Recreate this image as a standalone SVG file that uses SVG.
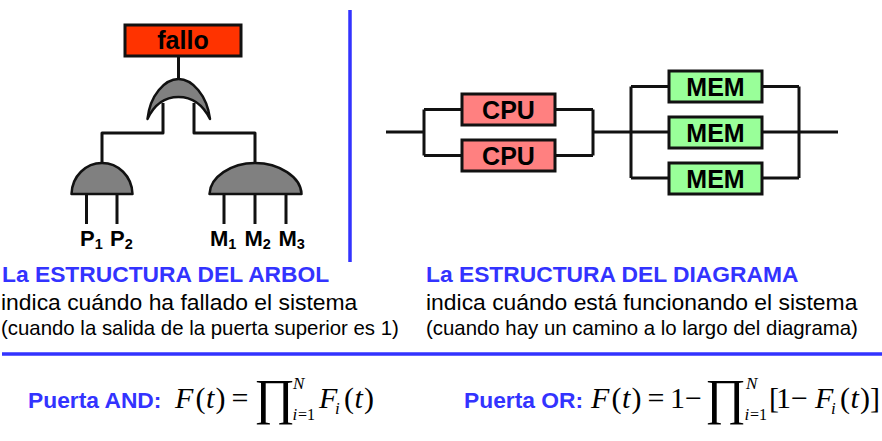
<svg xmlns="http://www.w3.org/2000/svg" width="882" height="441" viewBox="0 0 882 441">
<style>
text{font-family:"Liberation Sans",Arial,sans-serif;fill:#000}
.w{fill:none;stroke:#111;stroke-width:3;stroke-linejoin:round}
.box{stroke:#111;stroke-width:3}
.gate{fill:#808080;stroke:#111;stroke-width:2.5;stroke-linejoin:round}
.lbl{font-weight:bold;font-size:25px;text-anchor:middle}
.io{font-weight:bold;font-size:22px}
.sub{font-weight:bold;font-size:14.500px}
.bar{stroke:#3333ff;stroke-width:3.500;fill:none}
.head{font-weight:bold;font-size:22.800px;fill:#3333ff}
.body{font-size:22.900px}
.note{font-size:20.400px}
.pu{font-weight:bold;font-size:22.800px;fill:#3333ff}
text.f{font-family:"Liberation Serif","Times New Roman",serif;font-size:30px}
.i{font-style:italic}
.s{font-size:17px;font-style:italic}
.n{font-size:16px}
.pr{font-size:50px}
</style>
<g id="connectors">
<path class="w" d="M178.500 56V79M163 103V133H102V163M194 103V133H255V163"/>
<path class="w" d="M86.500 194V224M117 194V224M224 194V224M255 194V224M286 194V224"/>
<path class="w" d="M386 132H424M424 109.500V155.500M424 109.500H462M424 155.500H462M555 109.500H593M555 155.500H593M593 109.500V155.500M593 132H669M631 86.500V178M631 86.500H669M631 178H669M762 86.500H799M762 132H838M762 178H799M799 86.500V178"/>
</g>
<g id="dividers">
<path class="bar" d="M350 10V262M2 354H882"/>
</g>
<g id="fallo">
<rect class="box" x="125" y="25" width="116" height="31" fill="#ff3300"/>
<text class="lbl" x="183" y="49">fallo</text>
</g>
<g id="gate-or">
<path class="gate" d="M147.500 119C150 95 165 79 178.500 79C192 79 207 95 210 119C203 105 192 97 178.500 97C165 97 154 105 147.500 119Z"/>
</g>
<g id="gate-and-p">
<path class="gate" d="M71.500 194C72 176 86 163 102 163C118 163 132 176 132.500 194Z"/>
</g>
<g id="gate-and-m">
<path class="gate" d="M209.500 194C210 177 231 163 255 163C279 163 301 177 301.500 194Z"/>
</g>
<g id="p1"><text class="io" x="80" y="246">P<tspan class="sub" dy="3">1</tspan></text></g>
<g id="p2"><text class="io" x="110" y="246">P<tspan class="sub" dy="3">2</tspan></text></g>
<g id="m1"><text class="io" x="210" y="246">M<tspan class="sub" dy="3">1</tspan></text></g>
<g id="m2"><text class="io" x="244.500" y="246">M<tspan class="sub" dy="3">2</tspan></text></g>
<g id="m3"><text class="io" x="278.500" y="246">M<tspan class="sub" dy="3">3</tspan></text></g>
<g id="cpu1"><rect class="box" x="462" y="94" width="93" height="31" fill="#ff8080"/><text class="lbl" x="508.500" y="118.500">CPU</text></g>
<g id="cpu2"><rect class="box" x="462" y="140" width="93" height="31" fill="#ff8080"/><text class="lbl" x="508.500" y="164.500">CPU</text></g>
<g id="mem1"><rect class="box" x="669" y="71" width="93" height="31" fill="#99ff99"/><text class="lbl" x="715.500" y="95.500">MEM</text></g>
<g id="mem2"><rect class="box" x="669" y="117" width="93" height="31" fill="#99ff99"/><text class="lbl" x="715.500" y="141.500">MEM</text></g>
<g id="mem3"><rect class="box" x="669" y="163" width="93" height="31" fill="#99ff99"/><text class="lbl" x="715.500" y="187.500">MEM</text></g>
<g id="text-arbol">
<text class="head" x="2" y="282">La ESTRUCTURA DEL ARBOL</text>
<text class="body" x="1" y="310">indica cuándo ha fallado el sistema</text>
<text class="note" x="1" y="335">(cuando la salida de la puerta superior es 1)</text>
</g>
<g id="text-diagrama">
<text class="head" x="426" y="282">La ESTRUCTURA DEL DIAGRAMA</text>
<text class="body" x="426" y="310">indica cuándo está funcionando el sistema</text>
<text class="note" x="426" y="335">(cuando hay un camino a lo largo del diagrama)</text>
</g>
<g id="formula-and">
<text class="pu" x="28" y="408">Puerta AND:</text>
<text class="f" y="408"><tspan class="i" x="175">F</tspan><tspan x="195.500">(</tspan><tspan class="i" x="206">t</tspan><tspan x="215.500">)</tspan><tspan x="231.500">=</tspan><tspan class="pr" x="254" y="414">∏</tspan><tspan class="s" x="293" y="389">N</tspan><tspan class="s" x="292.500" y="420">i</tspan><tspan class="n" x="298">=1</tspan><tspan class="i" x="319" y="408">F</tspan><tspan class="s" x="335" y="414">i</tspan><tspan x="344" y="408">(</tspan><tspan class="i" x="354.500">t</tspan><tspan x="364">)</tspan></text>
</g>
<g id="formula-or">
<text class="pu" x="464" y="408">Puerta OR:</text>
<text class="f" y="408"><tspan class="i" x="591">F</tspan><tspan x="611.500">(</tspan><tspan class="i" x="622">t</tspan><tspan x="631.500">)</tspan><tspan x="647.500">=</tspan><tspan x="670">1</tspan><tspan x="685">−</tspan><tspan class="pr" x="705" y="414">∏</tspan><tspan class="s" x="746" y="389">N</tspan><tspan class="s" x="744.500" y="420">i</tspan><tspan class="n" x="750">=1</tspan><tspan x="769" y="408">[</tspan><tspan x="776">1</tspan><tspan x="791">−</tspan><tspan class="i" x="815">F</tspan><tspan class="s" x="831" y="414">i</tspan><tspan x="840" y="408">(</tspan><tspan class="i" x="850.500">t</tspan><tspan x="860">)</tspan><tspan x="870">]</tspan></text>
</g>
</svg>
